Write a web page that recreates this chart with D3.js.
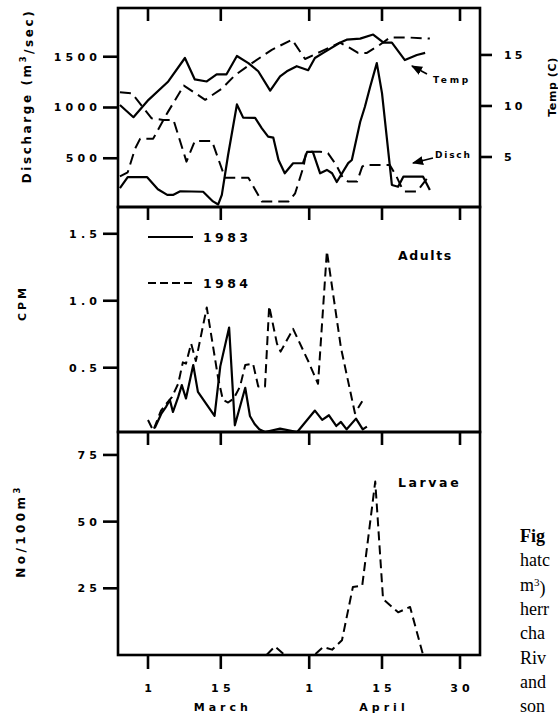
<!DOCTYPE html>
<html><head><meta charset="utf-8">
<script src="https://cdn.jsdelivr.net/npm/d3@7"></script>
<style>
body{margin:0;background:#fff}
svg{display:block;background:#fff}
text{font-family:"DejaVu Sans",sans-serif;font-weight:bold;fill:#000}
.cap{font-family:"Liberation Serif",serif;font-weight:normal;font-size:18px}
</style>
</head><body>
<svg id="c" width="558" height="715"></svg>
<script>
// ---------- data (x = day of season, 1 = 1 March, 32 = 1 April) ----------
const dayTicks = [1, 15, 32, 46, 61];
const dayTickLabels = ["1", "15", "1", "15", "30"];
const monthNames = ["March", "April"];
const monthDays = [15, 46];

const dischTicks = [500, 1000, 1500];
const tempTicks = [5, 10, 15];
const cpmTicks = [0.5, 1.0, 1.5];
const cpmTickLabels = ["0.5", "1.0", "1.5"];
const larvaeTicks = [25, 50, 75];

const legendYears = ["1983", "1984"];

// Discharge (m3/sec)
const disch1983 = [[-4.4,207],[-2.9,315],[0.8,315],[2.9,195],[4.7,139],[5.8,139],[7.2,175],[11.6,170],[13.5,75],[14.5,45],[15.2,139],[16.4,532],[18.1,1030],[19.3,900],[21.6,897],[22.9,795],[24.1,713],[25.1,703],[26.1,483],[27.3,352],[28.9,451],[30.8,452],[31.6,562],[32.7,562],[34.1,352],[35.4,385],[36.4,352],[37.3,266],[39.5,452],[40.2,483],[41.8,857],[42.7,1005],[43.7,1200],[45.0,1437],[46.0,1142],[47.9,237],[49.1,220],[50.1,319],[53.9,319],[55.2,188]];
const disch1984 = [[-4.4,1150],[-2.1,1140],[1.7,894],[3.9,877],[5.9,877],[8.4,467],[10.0,670],[13.3,670],[15.8,309],[20.3,309],[22.9,73],[28.0,73],[29.3,155],[30.9,417],[31.4,555],[32.5,565],[34.1,565],[35.6,550],[37.2,434],[38.5,305],[39.5,270],[41.2,270],[42.2,417],[42.7,434],[47.5,434],[48.7,330],[49.9,200],[50.4,172],[52.7,172],[54.7,303]];
// Temperature (C)
const temp1983 = [[-4.4,10.1],[-1.8,8.9],[1.1,10.6],[4.9,12.4],[8.1,14.7],[10.0,12.6],[12.3,12.4],[14.2,13.1],[16.1,13.1],[18.1,14.9],[20.3,14.2],[22.2,13.4],[24.5,11.5],[26.4,12.9],[27.7,13.4],[29.6,13.9],[31.8,13.5],[33.1,14.7],[34.7,15.2],[37.9,16.2],[39.2,16.5],[41.8,16.6],[44.3,17.0],[46.3,16.2],[47.9,16.2],[50.4,14.5],[52.7,15.0],[54.3,15.2]];
const temp1984 = [[-4.4,3.1],[-2.9,3.5],[-1.5,5.8],[-0.5,6.8],[2.0,6.8],[4.7,9.3],[7.9,12.0],[12.0,10.6],[15.2,11.7],[17.7,13.0],[21.0,14.2],[24.8,15.5],[28.7,16.5],[31.2,14.6],[34.1,15.3],[37.9,16.2],[39.8,15.7],[41.4,15.2],[43.1,15.2],[45.6,16.0],[47.5,16.7],[51.4,16.7],[55.2,16.6]];
// Adults (CPM)
const adults1983 = [[2.3,0.05],[3.6,0.16],[4.5,0.21],[5.2,0.26],[5.8,0.17],[6.8,0.28],[7.5,0.37],[8.3,0.27],[9.7,0.52],[10.6,0.32],[13.8,0.14],[14.9,0.51],[16.6,0.80],[17.7,0.07],[19.7,0.35],[20.6,0.14],[21.5,0.08],[22.4,0.04],[23.5,0.02],[26.4,0.045],[29.7,0.02],[33.1,0.18],[34.5,0.11],[35.8,0.145],[37.2,0.065],[38.1,0.095],[39.2,0.04],[41.0,0.12],[42.3,0.04],[43.1,0.06]];
const adults1984 = [[1.0,0.11],[2.0,0.03],[3.5,0.18],[4.7,0.24],[5.6,0.28],[6.8,0.38],[7.7,0.54],[8.3,0.53],[9.3,0.68],[10.2,0.55],[12.3,0.95],[14.5,0.42],[15.4,0.26],[16.4,0.24],[17.5,0.27],[18.7,0.36],[19.7,0.52],[21.2,0.53],[22.2,0.36],[23.5,0.36],[24.3,0.96],[25.8,0.68],[26.5,0.62],[28.9,0.79],[31.8,0.55],[33.7,0.38],[35.4,1.37],[38.1,0.65],[40.8,0.16],[42.2,0.25]];
// Larvae (No/100m3)
const larvae1984 = [[23.8,0],[25.4,3.2],[27.3,0],[33.0,0],[34.7,3],[36.4,2],[38.3,5.5],[40.4,25.5],[42.2,26],[44.7,65],[46.2,21],[49.1,16],[51.4,18],[53.9,0]];

const captionLines = ["Fig", "hatc", "m", "herr", "cha", "Riv", "and", "son"];

// ---------- layout ----------
const L = 118, R = 480;
const P1 = [8, 207], P2 = [207, 432], P3 = [432, 655];

const svg = d3.select("#c");
const x = d3.scaleLinear().domain([1, 61]).range([148, 460]);
const yDis = d3.scaleLinear().domain([20, 1980]).range([P1[1], P1[0]]);
const yTemp = d3.scaleLinear().domain([0.1, 19.6]).range([P1[1], P1[0]]);
const yCpm = d3.scaleLinear().domain([0.02, 1.7]).range([P2[1], P2[0]]);
const yLar = d3.scaleLinear().domain([0, 83.6]).range([P3[1], P3[0]]);

const SOLID = 2.2, DASHW = 2.0;

function drawLine(data, ys, dashed, dash) {
  svg.append("path").datum(data)
    .attr("d", d3.line().x(d => x(d[0])).y(d => ys(d[1])))
    .attr("fill", "none").attr("stroke", "#000")
    .attr("stroke-width", dashed ? DASHW : SOLID)
    .attr("stroke-linejoin", "round")
    .attr("stroke-dasharray", dashed ? dash : null);
}

// lines
drawLine(temp1983, yTemp, false);
drawLine(temp1984, yTemp, true, "11,6");
drawLine(disch1983, yDis, false);
drawLine(disch1984, yDis, true, "11,6");
drawLine(adults1983, yCpm, false);
drawLine(adults1984, yCpm, true, "9,5");
drawLine(larvae1984, yLar, true, "9,5");

// frames
[P1, P2, P3].forEach(p => {
  svg.append("rect").attr("x", L).attr("y", p[0]).attr("width", R - L).attr("height", p[1] - p[0])
    .attr("fill", "none").attr("stroke", "#000").attr("stroke-width", 2.6);
});

// x ticks: inward at each panel top, outward at bottom panel base
[P1, P2, P3].forEach(p => {
  svg.selectAll(null).data(dayTicks).enter().append("line")
    .attr("x1", d => x(d)).attr("x2", d => x(d)).attr("y1", p[0]).attr("y2", p[0] + 13)
    .attr("stroke", "#000").attr("stroke-width", 2.6);
});
svg.selectAll(null).data(dayTicks).enter().append("line")
  .attr("x1", d => x(d)).attr("x2", d => x(d)).attr("y1", P3[1]).attr("y2", P3[1] + 14)
  .attr("stroke", "#000").attr("stroke-width", 2.6);

const TLS = 4.2; // tick label letter spacing
svg.selectAll(null).data(dayTicks).enter().append("text")
  .attr("x", d => x(d) + TLS / 2).attr("y", 692)
  .attr("text-anchor", "middle").style("font-size", "11px").style("letter-spacing", TLS + "px")
  .text((d, i) => dayTickLabels[i]);
svg.selectAll(null).data(monthDays).enter().append("text")
  .attr("x", d => x(d) + 2).attr("y", 711)
  .attr("text-anchor", "middle").style("font-size", "11px").style("letter-spacing", "4px")
  .text((d, i) => monthNames[i]);

// y ticks
function leftAxis(ticks, ys, labels) {
  svg.selectAll(null).data(ticks).enter().append("line")
    .attr("x1", L - 15).attr("x2", L).attr("y1", d => ys(d)).attr("y2", d => ys(d))
    .attr("stroke", "#000").attr("stroke-width", 2.6);
  svg.selectAll(null).data(ticks).enter().append("text")
    .attr("x", 97 + TLS).attr("y", d => ys(d)).attr("dy", "0.36em")
    .attr("text-anchor", "end").style("font-size", "11px").style("letter-spacing", TLS + "px")
    .text((d, i) => labels ? labels[i] : d);
}
leftAxis(dischTicks, yDis);
leftAxis(cpmTicks, yCpm, cpmTickLabels);
leftAxis(larvaeTicks, yLar);

svg.selectAll(null).data(tempTicks).enter().append("line")
  .attr("x1", R).attr("x2", R + 12).attr("y1", d => yTemp(d)).attr("y2", d => yTemp(d))
  .attr("stroke", "#000").attr("stroke-width", 2.6);
svg.selectAll(null).data(tempTicks).enter().append("text")
  .attr("x", 504).attr("y", d => yTemp(d)).attr("dy", "0.36em")
  .style("font-size", "11px").style("letter-spacing", "3px")
  .text(d => d);

// axis titles
function vtitle(cx, cy, parts, size, ls) {
  const t = svg.append("text").attr("transform", `translate(${cx},${cy}) rotate(-90)`)
    .attr("text-anchor", "middle").style("font-size", size + "px").style("letter-spacing", ls + "px");
  parts.forEach(p => {
    const s = t.append("tspan").text(p[0]);
    if (p[1]) s.attr("dy", "-0.55em").style("font-size", (size * 0.7) + "px");
    if (p[2]) s.attr("dy", "0.55em");
  });
}
vtitle(31, 96, [["Discharge (m"], ["3", true], ["/sec)", false, true]], 12, 2.6);
vtitle(26, 303, [["CPM"]], 11, 3);
vtitle(25, 531, [["No/100m"], ["3", true]], 12, 3.4);
vtitle(556, 87, [["Temp (C)"]], 11, 0.6);

// legend
legendYears.forEach((yr, i) => {
  const ly = i === 0 ? 237 : 283;
  svg.append("line").attr("x1", 148).attr("x2", 193).attr("y1", ly).attr("y2", ly)
    .attr("stroke", "#000").attr("stroke-width", i === 0 ? SOLID : DASHW)
    .attr("stroke-dasharray", i === 0 ? null : "8,4");
  svg.append("text").attr("x", 203).attr("y", ly + 4.6)
    .style("font-size", "12.5px").style("letter-spacing", "3.4px").text(yr);
});

// panel labels
svg.append("text").attr("x", 398).attr("y", 259.5).style("font-size", "12.5px").style("letter-spacing", "1.6px").text("Adults");
svg.append("text").attr("x", 398).attr("y", 486.5).style("font-size", "12.5px").style("letter-spacing", "2.6px").text("Larvae");
svg.append("text").attr("x", 433).attr("y", 83.3).style("font-size", "9px").style("letter-spacing", "2.8px").text("Temp");
svg.append("text").attr("x", 435).attr("y", 158.3).style("font-size", "9px").style("letter-spacing", "1.8px").text("Disch");

// arrows
const defs = svg.append("defs");
defs.append("marker").attr("id", "ah").attr("viewBox", "0 0 10 10").attr("refX", 9).attr("refY", 5)
  .attr("markerWidth", 7).attr("markerHeight", 7).attr("orient", "auto")
  .append("path").attr("d", "M0,1 L10,5 L0,9 Z").attr("fill", "#000");
[[427, 74, 412, 66], [433, 158, 413, 163]].forEach(a => {
  svg.append("line").attr("x1", a[0]).attr("y1", a[1]).attr("x2", a[2]).attr("y2", a[3])
    .attr("stroke", "#000").attr("stroke-width", 1.6).attr("marker-end", "url(#ah)");
});

// cut-off caption text at right
captionLines.forEach((c, i) => {
  const t = svg.append("text").attr("class", "cap").attr("x", 520).attr("y", 542 + i * 24.3);
  if (i === 0) t.style("font-weight", "bold");
  t.append("tspan").text(c);
  if (i === 2) {
    t.append("tspan").attr("dy", "-0.45em").style("font-size", "11px").text("3");
    t.append("tspan").attr("dy", "0.45em").text(")");
  }
});
</script>
</body></html>
